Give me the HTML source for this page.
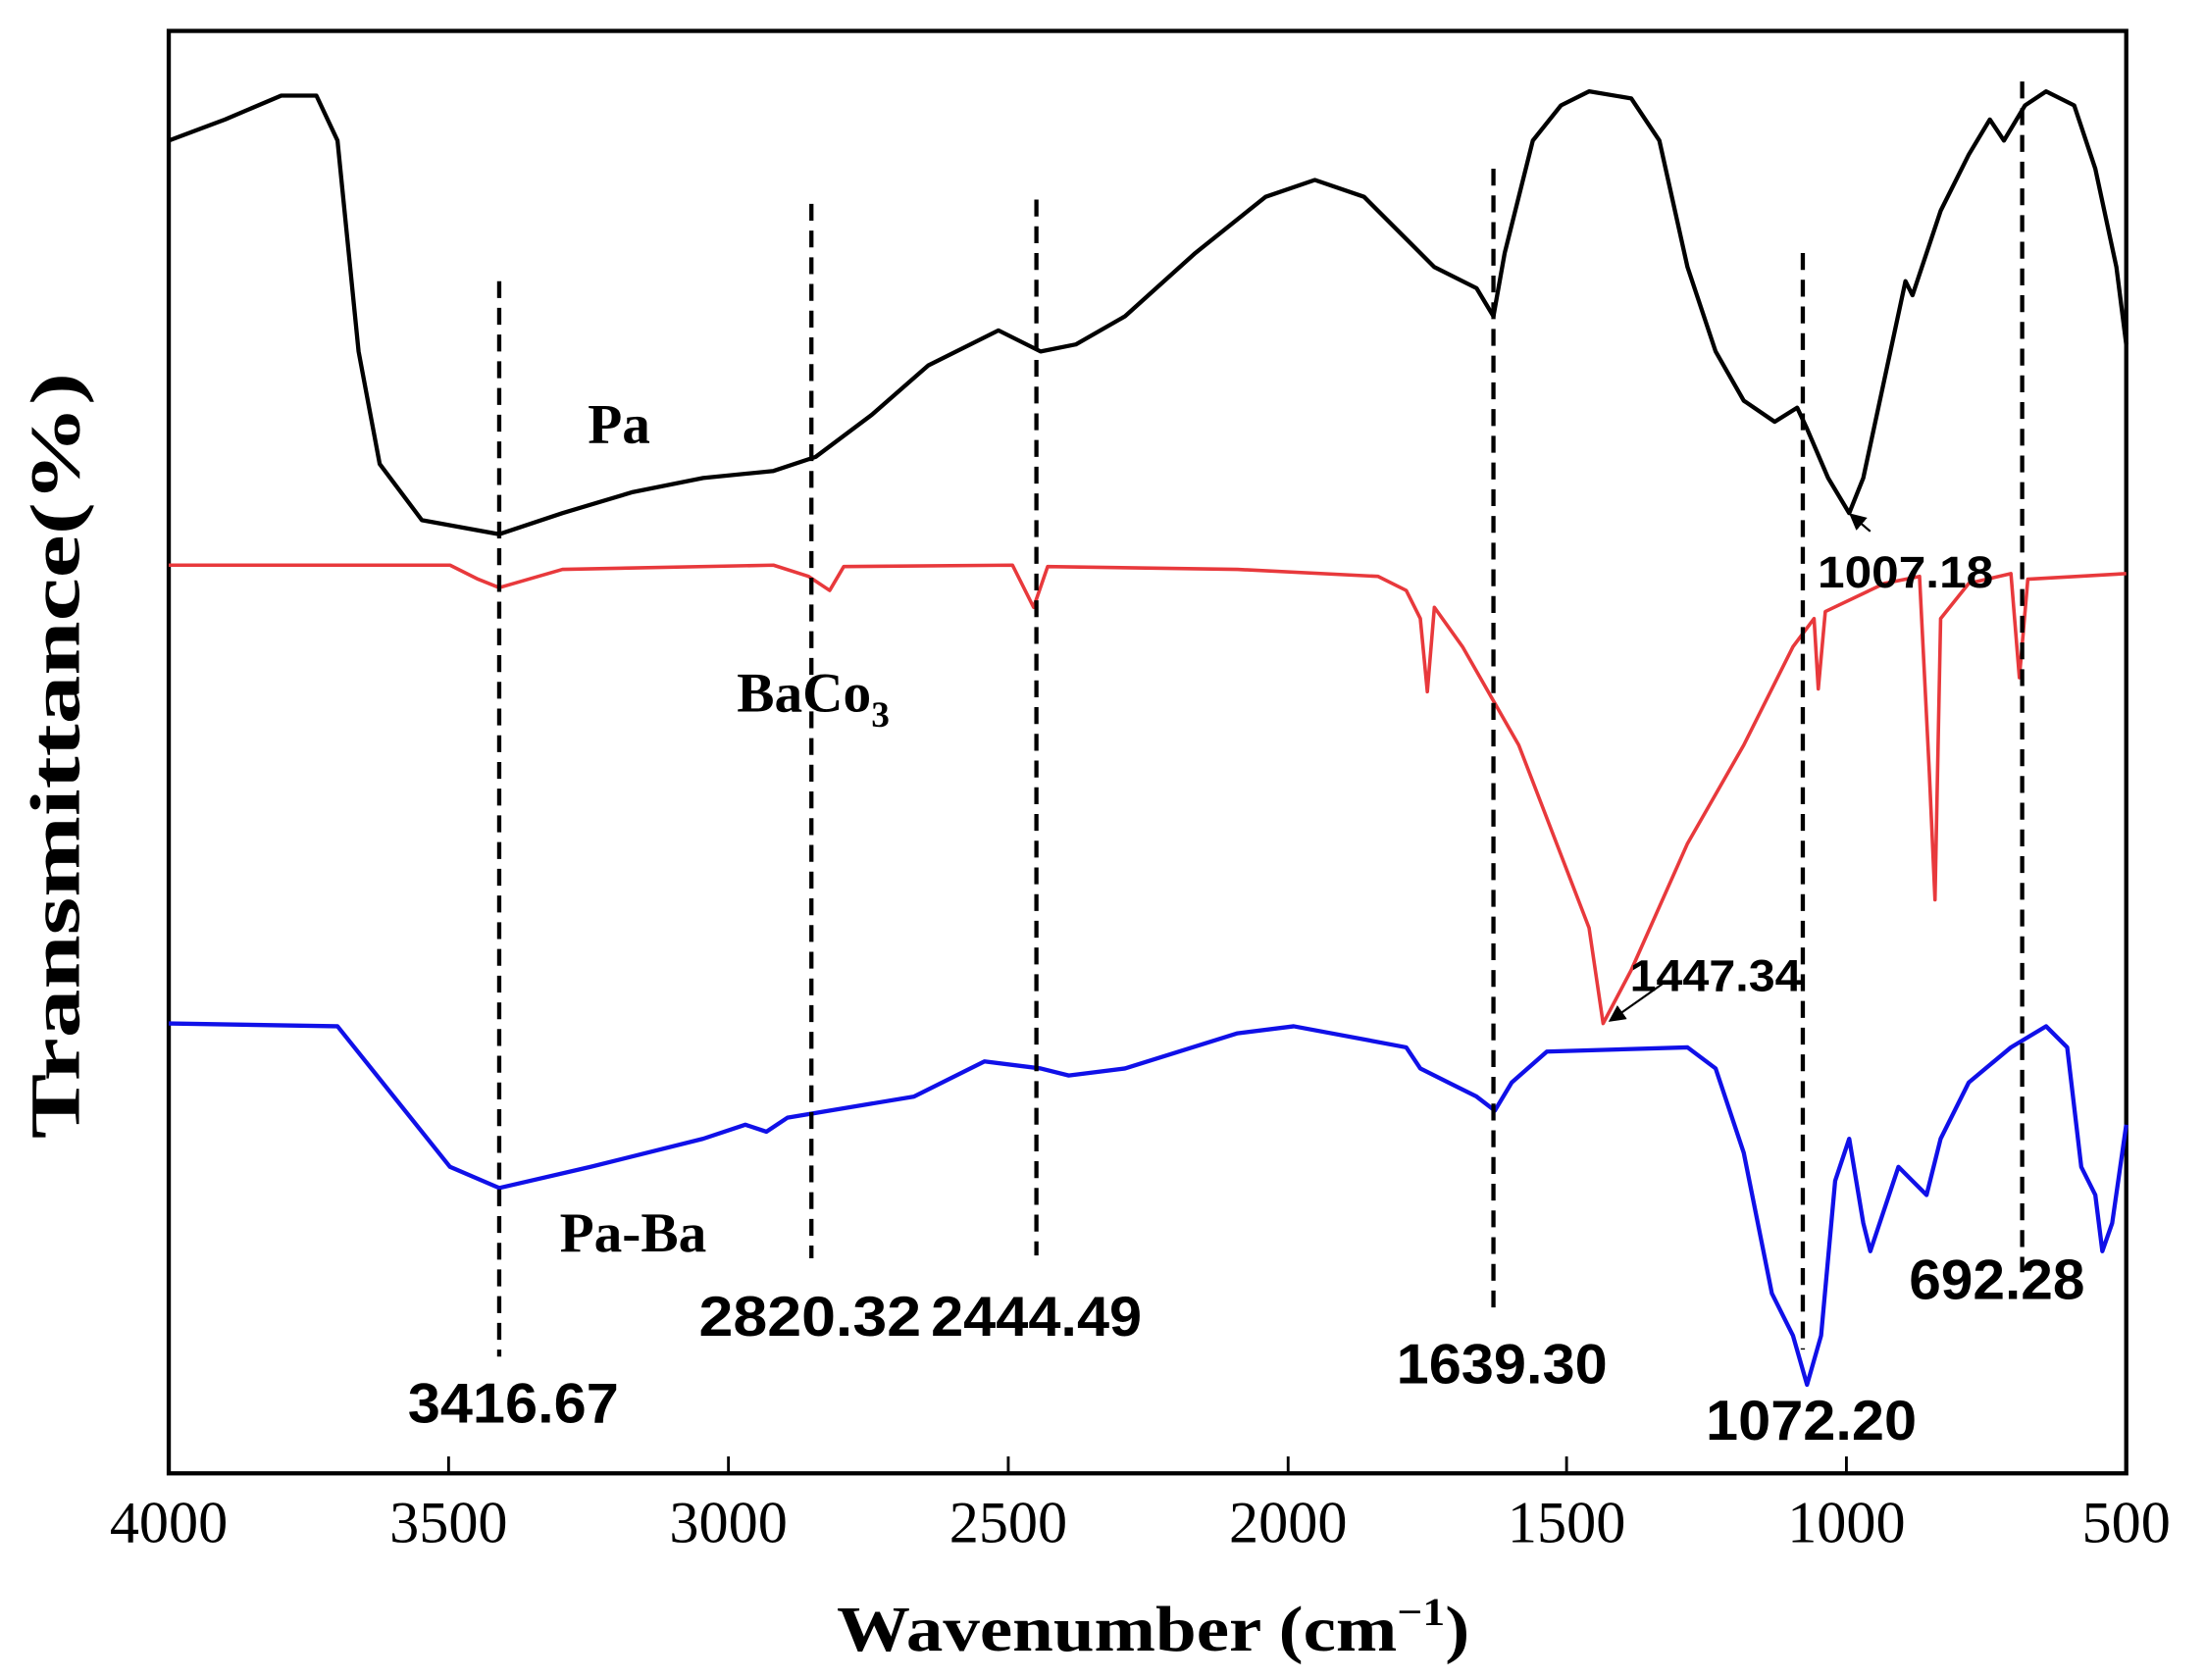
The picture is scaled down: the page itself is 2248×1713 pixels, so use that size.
<!DOCTYPE html>
<html><head><style>html,body{margin:0;padding:0;background:#fff;}svg{display:block;}</style></head>
<body>
<svg width="2248" height="1713" viewBox="0 0 1568 1195" preserveAspectRatio="none" xmlns="http://www.w3.org/2000/svg">
<defs><marker id="ar" markerWidth="8" markerHeight="8" refX="7" refY="4" orient="auto"><path d="M0,0 L8,4 L0,8 z" fill="#000"/></marker></defs>
<rect x="120" y="22" width="1392" height="1026" fill="none" stroke="#000" stroke-width="3"/>
<g stroke="#000" stroke-width="2">
<line x1="319" y1="1048" x2="319" y2="1036"/><line x1="518" y1="1048" x2="518" y2="1036"/><line x1="717" y1="1048" x2="717" y2="1036"/><line x1="916" y1="1048" x2="916" y2="1036"/><line x1="1114" y1="1048" x2="1114" y2="1036"/><line x1="1313" y1="1048" x2="1313" y2="1036"/>
</g>
<g font-family="Liberation Serif, serif" font-size="42" text-anchor="middle" fill="#000">
<text x="120" y="1097">4000</text><text x="319" y="1097">3500</text><text x="518" y="1097">3000</text><text x="717" y="1097">2500</text><text x="916" y="1097">2000</text><text x="1114" y="1097">1500</text><text x="1313" y="1097">1000</text><text x="1512" y="1097">500</text>
</g>
<text x="595" y="1174" font-family="Liberation Serif, serif" font-weight="bold" font-size="46" textLength="450" lengthAdjust="spacingAndGlyphs">Wavenumber (cm<tspan font-size="28" dy="-18">−1</tspan><tspan dy="18">)</tspan></text>
<text transform="translate(56,810) rotate(-90)" font-family="Liberation Serif, serif" font-weight="bold" font-size="50" textLength="545" lengthAdjust="spacingAndGlyphs">Transmittance(%)</text>
<g fill="none" stroke-width="3" stroke-linejoin="round">
<polyline stroke="#000" points="120,100 160,85 200,68 225,68 240,100 255,250 270,330 300,370 355,380 400,365 450,350 500,340 550,335 580,325 620,295 660,260 710,235 740,250 765,245 800,225 850,180 900,140 935,128 970,140 1000,170 1020,190 1050,205 1062,225 1070,180 1090,100 1110,75 1130,65 1160,70 1180,100 1200,190 1220,250 1240,285 1262,300 1278,290 1285,305 1300,340 1315,365 1325,340 1340,270 1355,200 1360,210 1380,150 1400,110 1415,85 1425,100 1440,75 1455,65 1475,75 1490,120 1505,190 1512,245"/>
<polyline stroke="#e8393c" stroke-width="2.5" points="120,402 320,402 340,412 355,418 400,405 550,402 575,410 590,420 600,403 720,402 735,432 745,403 880,405 980,410 1000,420 1010,440 1015,492 1020,432 1040,460 1080,530 1130,660 1140,728 1160,690 1200,600 1240,530 1275,460 1290,440 1293,490 1298,435 1340,415 1365,410 1372,550 1376,640 1380,440 1400,415 1430,408 1436,482 1442,412 1512,408"/>
<polyline stroke="#1010e8" points="120,728 240,730 280,780 320,830 355,845 420,830 500,810 530,800 545,805 560,795 650,780 700,755 740,760 760,765 800,760 880,735 920,730 1000,745 1010,760 1030,770 1050,780 1063,790 1075,770 1100,748 1200,745 1220,760 1240,820 1260,920 1275,950 1285,985 1295,950 1305,840 1315,810 1325,870 1330,890 1340,860 1350,830 1360,840 1370,850 1380,810 1400,770 1430,745 1455,730 1470,745 1480,830 1490,850 1495,890 1502,870 1512,800"/>
</g>
<g stroke="#000" stroke-width="3" stroke-dasharray="12,7">
<line x1="355" y1="200" x2="355" y2="965"/><line x1="577" y1="145" x2="577" y2="895"/><line x1="737" y1="142" x2="737" y2="893"/><line x1="1062" y1="120" x2="1062" y2="935"/><line x1="1282" y1="180" x2="1282" y2="960"/><line x1="1438" y1="58" x2="1438" y2="905"/>
</g>
<g stroke="#000" stroke-width="1.5" fill="none">
<line x1="1330" y1="378" x2="1316" y2="366" marker-end="url(#ar)"/>
<line x1="1182" y1="700" x2="1145" y2="726" marker-end="url(#ar)"/>
</g>
<g font-family="Liberation Sans, sans-serif" font-weight="bold" font-size="40" text-anchor="middle" fill="#000">
<text x="365" y="1012" textLength="150" lengthAdjust="spacingAndGlyphs">3416.67</text>
<text x="576" y="950" textLength="158" lengthAdjust="spacingAndGlyphs">2820.32</text>
<text x="737" y="950" textLength="150" lengthAdjust="spacingAndGlyphs">2444.49</text>
<text x="1068" y="984" textLength="150" lengthAdjust="spacingAndGlyphs">1639.30</text>
<text x="1288" y="1024" textLength="150" lengthAdjust="spacingAndGlyphs">1072.20</text>
<text x="1420" y="924" textLength="125" lengthAdjust="spacingAndGlyphs">692.28</text>
<text x="1355" y="418" font-size="32" textLength="125" lengthAdjust="spacingAndGlyphs">1007.18</text>
<text x="1220" y="705" font-size="32" textLength="122" lengthAdjust="spacingAndGlyphs">1447.34</text>
</g>
<g font-family="Liberation Serif, serif" font-weight="bold" font-size="40" fill="#000">
<text x="418" y="315">Pa</text>
<text x="524" y="506">BaCo<tspan font-size="26" dy="11">3</tspan></text>
<text x="398" y="890">Pa-Ba</text>
</g>
</svg>
</body></html>
